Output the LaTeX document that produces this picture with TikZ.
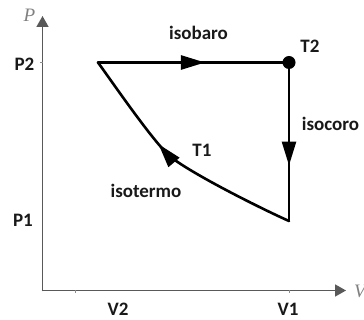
\documentclass[tikz,border=0pt]{standalone}
\usepackage{fontspec}
\setmainfont{Carlito}
\newfontfamily\axisfont{Liberation Serif}
\usetikzlibrary{arrows.meta,decorations.markings}
\begin{document}
\begin{tikzpicture}[x=1pt,y=-1pt,
  lbl/.style={font=\fontsize{19}{21}\selectfont\bfseries, anchor=base, inner sep=0pt, text=black!90},
  axlbl/.style={font=\axisfont\itshape\fontsize{19}{20}\selectfont, anchor=base, inner sep=0pt, text=black!50},
  axisline/.style={draw=black!65, line width=1.8pt},
  tickmark/.style={draw=black!45, line width=1pt},
  proc/.style={draw=black, line width=2.6pt, line cap=round},
  midarrow/.style={postaction={decorate}, decoration={markings,
    mark=at position #1 with {\arrow{Triangle[length=24pt,width=14pt]}}}}
]
\useasboundingbox (0,0) rectangle (364,320);
% axes
\coordinate (O) at (42.5,290.5);
\coordinate (Ytip) at (42.5,16);
\coordinate (Xtip) at (346,290.5);
\draw[axisline, -{Triangle[length=11pt,width=12pt]}] (42.5,291.4) -- (Ytip);
\draw[axisline, -{Triangle[length=11pt,width=12pt]}] (41.6,290.5) -- (Xtip);
% ticks
\draw[tickmark] (42.5,62.5) -- ++(-3,0);
\draw[tickmark] (75,290.5) -- ++(0,3);
\draw[tickmark] (289,290.5) -- ++(0,3);
% cycle corners
\coordinate (A) at (98,62.5);
\coordinate (B) at (289,62.5);
\coordinate (C) at (289,221);
\coordinate (M) at (172,158);
\draw[proc, midarrow=0.56] (A) -- (B);
\draw[proc, midarrow=0.65] (B) -- (C);
\draw[proc, midarrow=0.60] (C) .. controls (262,209) and (196,176) .. (M)
  .. controls (156,146) and (113,83) .. (A);
\node[circle, fill=black, inner sep=0pt, minimum size=13pt] (dot) at (B) {};
% labels
\node[lbl] (isobaro) at (198.5,40) {isobaro};
\node[lbl] (t2) at (310,53) {T2};
\node[lbl] (isocoro) at (330.5,131) {isocoro};
\node[lbl] (t1) at (202,157) {T1};
\node[lbl] (isotermo) at (146,198) {isotermo};
\node[lbl] (p2) at (24.5,71) {P2};
\node[lbl] (p1) at (23,227) {P1};
\node[lbl] (v2) at (118,315.5) {V2};
\node[lbl] (v1) at (288,315.5) {V1};
\node[axlbl] (plbl) at (29.5,22) {P};
\node[axlbl, anchor=base west] (vlbl) at (354,298) {V};
\end{tikzpicture}
\end{document}
